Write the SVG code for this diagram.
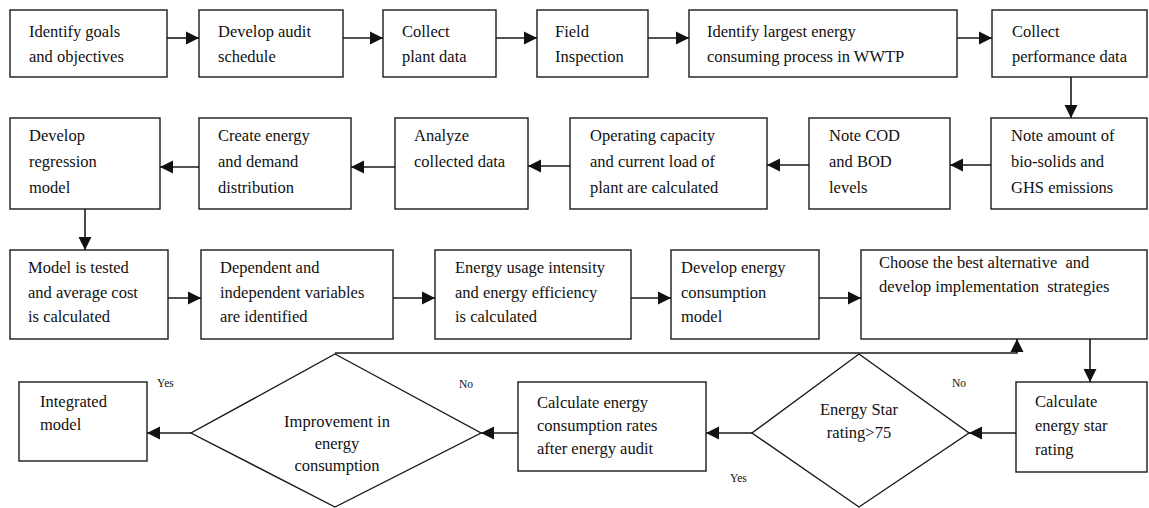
<svg xmlns="http://www.w3.org/2000/svg" width="1149" height="508" viewBox="0 0 1149 508">
<style>
.b{fill:#fff;stroke:#1a1a1a;stroke-width:1.4}
.t{font-family:"Liberation Serif","Times New Roman",serif;font-size:16.5px;fill:#111}
.c{text-anchor:middle}
.l{font-family:"Liberation Serif","Times New Roman",serif;font-size:11.5px;fill:#111}
.ln{fill:none;stroke:#1a1a1a;stroke-width:1.6}
</style>
<defs>
<marker id="ah" markerUnits="userSpaceOnUse" markerWidth="14" markerHeight="14" viewBox="0 0 14 13" refX="13" refY="6.5" orient="auto">
<path d="M0,0 L13,6.5 L0,13 z" fill="#111"/>
</marker>
</defs>
<rect width="1149" height="508" fill="#fff"/>
<g id="connectors">
<line class="ln" x1="167" y1="38" x2="199" y2="38" marker-end="url(#ah)"/>
<line class="ln" x1="343" y1="38" x2="383" y2="38" marker-end="url(#ah)"/>
<line class="ln" x1="496" y1="38" x2="537" y2="38" marker-end="url(#ah)"/>
<line class="ln" x1="648" y1="38" x2="689" y2="38" marker-end="url(#ah)"/>
<line class="ln" x1="957" y1="38" x2="992" y2="38" marker-end="url(#ah)"/>
<line class="ln" x1="1071" y1="77" x2="1071" y2="118" marker-end="url(#ah)"/>
<line class="ln" x1="991" y1="165" x2="950" y2="165" marker-end="url(#ah)"/>
<line class="ln" x1="809" y1="165" x2="767" y2="165" marker-end="url(#ah)"/>
<line class="ln" x1="570" y1="166" x2="528" y2="166" marker-end="url(#ah)"/>
<line class="ln" x1="395" y1="167" x2="351" y2="167" marker-end="url(#ah)"/>
<line class="ln" x1="199" y1="167" x2="160" y2="167" marker-end="url(#ah)"/>
<line class="ln" x1="85" y1="209" x2="85" y2="250" marker-end="url(#ah)"/>
<line class="ln" x1="168" y1="298" x2="201" y2="298" marker-end="url(#ah)"/>
<line class="ln" x1="393" y1="298" x2="435" y2="298" marker-end="url(#ah)"/>
<line class="ln" x1="631" y1="298" x2="671" y2="298" marker-end="url(#ah)"/>
<line class="ln" x1="819" y1="298" x2="861" y2="298" marker-end="url(#ah)"/>
<line class="ln" x1="1090" y1="339" x2="1090" y2="382" marker-end="url(#ah)"/>
<polyline class="ln" points="335,353 1017,353 1017,339" marker-end="url(#ah)"/>
<line class="ln" x1="1016" y1="433" x2="969" y2="433" marker-end="url(#ah)"/>
<line class="ln" x1="752" y1="433" x2="706" y2="433" marker-end="url(#ah)"/>
<line class="ln" x1="518" y1="433" x2="481" y2="433" marker-end="url(#ah)"/>
<line class="ln" x1="191" y1="433" x2="147" y2="433" marker-end="url(#ah)"/>
<text class="l" x="157" y="387">Yes</text>
<text class="l" x="459" y="388">No</text>
<text class="l" x="952" y="387">No</text>
<text class="l" x="730" y="482">Yes</text>
</g>
<g id="n1"><rect class="b" x="10" y="10" width="157" height="67"/><text class="t" x="29" y="37">Identify goals</text><text class="t" x="29" y="62">and objectives</text></g>
<g id="n2"><rect class="b" x="199" y="10" width="144" height="67"/><text class="t" x="218" y="37">Develop audit</text><text class="t" x="218" y="62">schedule</text></g>
<g id="n3"><rect class="b" x="383" y="10" width="113" height="67"/><text class="t" x="402" y="37">Collect</text><text class="t" x="402" y="62">plant data</text></g>
<g id="n4"><rect class="b" x="537" y="10" width="111" height="67"/><text class="t" x="555" y="37">Field</text><text class="t" x="555" y="62">Inspection</text></g>
<g id="n5"><rect class="b" x="689" y="10" width="268" height="67"/><text class="t" x="707" y="37">Identify largest energy</text><text class="t" x="707" y="62">consuming process in WWTP</text></g>
<g id="n6"><rect class="b" x="992" y="10" width="155" height="67"/><text class="t" x="1012" y="37">Collect</text><text class="t" x="1012" y="62">performance data</text></g>
<g id="n7"><rect class="b" x="991" y="118" width="156" height="91"/><text class="t" x="1011" y="141">Note amount of</text><text class="t" x="1011" y="167">bio-solids and</text><text class="t" x="1011" y="193">GHS emissions</text></g>
<g id="n8"><rect class="b" x="809" y="118" width="141" height="91"/><text class="t" x="829" y="141">Note COD</text><text class="t" x="829" y="167">and BOD</text><text class="t" x="829" y="193">levels</text></g>
<g id="n9"><rect class="b" x="570" y="118" width="197" height="91"/><text class="t" x="590" y="141">Operating capacity</text><text class="t" x="590" y="167">and current load of</text><text class="t" x="590" y="193">plant are calculated</text></g>
<g id="n10"><rect class="b" x="395" y="118" width="133" height="91"/><text class="t" x="414" y="141">Analyze</text><text class="t" x="414" y="167">collected data</text></g>
<g id="n11"><rect class="b" x="199" y="118" width="152" height="91"/><text class="t" x="218" y="141">Create energy</text><text class="t" x="218" y="167">and demand</text><text class="t" x="218" y="193">distribution</text></g>
<g id="n12"><rect class="b" x="10" y="118" width="150" height="91"/><text class="t" x="29" y="141">Develop</text><text class="t" x="29" y="167">regression</text><text class="t" x="29" y="193">model</text></g>
<g id="n13"><rect class="b" x="10" y="250" width="158" height="89"/><text class="t" x="28" y="273">Model is tested</text><text class="t" x="28" y="298">and average cost</text><text class="t" x="28" y="322">is calculated</text></g>
<g id="n14"><rect class="b" x="201" y="250" width="192" height="89"/><text class="t" x="220" y="273">Dependent and</text><text class="t" x="220" y="298">independent variables</text><text class="t" x="220" y="322">are identified</text></g>
<g id="n15"><rect class="b" x="435" y="250" width="196" height="89"/><text class="t" x="455" y="273">Energy usage intensity</text><text class="t" x="455" y="298">and energy efficiency</text><text class="t" x="455" y="322">is calculated</text></g>
<g id="n16"><rect class="b" x="671" y="250" width="148" height="89"/><text class="t" x="681" y="273">Develop energy</text><text class="t" x="681" y="298">consumption</text><text class="t" x="681" y="322">model</text></g>
<g id="n17"><rect class="b" x="861" y="250" width="286" height="89"/><text class="t" x="879" y="268" xml:space="preserve">Choose the best alternative  and</text><text class="t" x="879" y="292" xml:space="preserve">develop implementation  strategies</text></g>
<g id="n18"><rect class="b" x="1016" y="382" width="131" height="90"/><text class="t" x="1035" y="407">Calculate</text><text class="t" x="1035" y="431">energy star</text><text class="t" x="1035" y="455">rating</text></g>
<g id="n19"><polygon class="b" points="859,354 969,433 859,507 752,433"/><text class="t c" x="859" y="415">Energy Star</text><text class="t c" x="859" y="438">rating&gt;75</text></g>
<g id="n20"><rect class="b" x="518" y="382" width="188" height="89"/><text class="t" x="537" y="408">Calculate energy</text><text class="t" x="537" y="431">consumption rates</text><text class="t" x="537" y="454">after energy audit</text></g>
<g id="n21"><polygon class="b" points="335,354 481,433 335,507 191,433"/><text class="t c" x="337" y="427">Improvement in</text><text class="t c" x="337" y="449">energy</text><text class="t c" x="337" y="471">consumption</text></g>
<g id="n22"><rect class="b" x="19" y="382" width="128" height="79"/><text class="t" x="40" y="407">Integrated</text><text class="t" x="40" y="430">model</text></g>
</svg>
